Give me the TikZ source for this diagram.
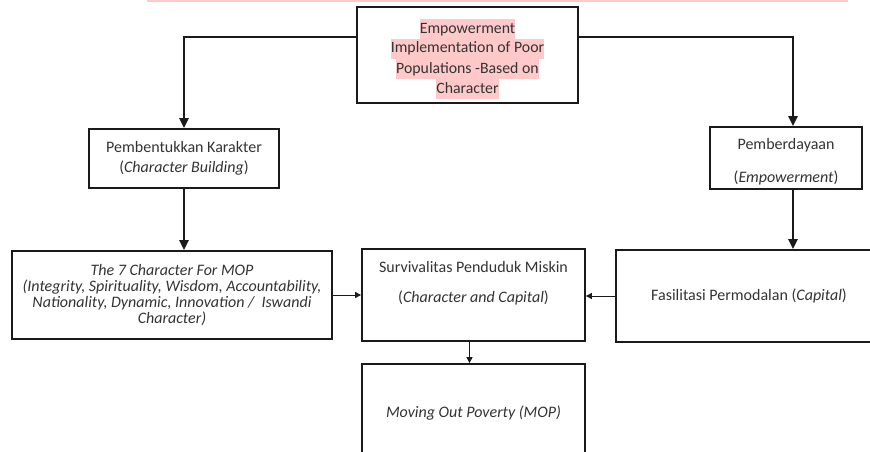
\documentclass[tikz,border=0pt]{standalone}
\usepackage{fontspec}
\setmainfont{Carlito}
\usetikzlibrary{arrows.meta,calc}
\definecolor{txt}{HTML}{333333}
\definecolor{hl}{HTML}{FFC9C9}
\definecolor{ln}{HTML}{1A1A1A}
\setlength{\fboxsep}{0pt}
\begin{document}
\begin{tikzpicture}[x=1pt,y=-1pt,
  box/.style={draw=ln, line width=1.8pt, rectangle, inner sep=0pt, align=center, text=txt, font=\fontsize{16}{20}\selectfont},
  thickarrow/.style={draw=ln, line width=2.6pt, -{Triangle[length=10pt,width=9pt]}},
  thinarrow/.style={draw=ln, line width=1pt, -{Triangle[length=6pt,width=6pt]}}]
\useasboundingbox (0,0) rectangle (870,452);
\clip (0,0) rectangle (870,452);
\fill[hl] (147,0) rectangle (848,1.6);

\node[box, line width=2.4pt, minimum width=221pt, minimum height=96pt, font=\fontsize{15.8}{20}\selectfont] (top) at (467.5,55)
  {\strut\\[-12pt]\colorbox{hl}{\strut Empowerment}\\\colorbox{hl}{\strut Implementation of Poor}\\\colorbox{hl}{\strut Populations -Based on}\\\colorbox{hl}{\strut Character}};

\node[box, minimum width=190pt, minimum height=59pt] (pk) at (184,158.5)
  {Pembentukkan Karakter\\(\textit{Character Building})};

\node[box, minimum width=152pt, minimum height=62pt] (pe) at (786,158)
  {\strut\\[-16pt]Pemberdayaan\\[13pt](\textit{Empowerment})};

\node[box, minimum width=320pt, minimum height=88pt, font=\fontsize{16}{16.3}\selectfont\itshape] (ch7) at (172,295)
  {The 7 Character For MOP\\(Integrity, Spirituality, Wisdom, Accountability,\\Nationality, Dynamic, Innovation /\ \ Iswandi\\Character)};

\node[box, minimum width=223pt, minimum height=92pt] (sv) at (473.5,295)
  {Survivalitas Penduduk Miskin\\[10pt](\textit{Character and Capital})\\[0pt]\strut};

\node[box, minimum width=266pt, minimum height=92pt] (fa) at (749,296)
  {Fasilitasi Permodalan (\textit{Capital})};

\node[box, minimum width=223pt, minimum height=98pt] (mop) at (473.5,413)
  {\textit{Moving Out Poverty (MOP)}};

\coordinate (yl) at (0,37);
\draw[thickarrow] (top.west |- yl) -| (pk.north);
\draw[thickarrow] (top.east |- yl) -| ([xshift=7pt]pe.north);
\draw[thickarrow] (pk.south) -- (pk.south |- ch7.north);
\draw[thickarrow] ([xshift=7pt]pe.south) -- ([xshift=7pt]pe.south |- fa.north);
\draw[thinarrow] (ch7.east) -- (ch7.east -| sv.west);
\draw[thinarrow] (fa.west) -- (fa.west -| sv.east);
\draw[thinarrow] ([xshift=-4pt]sv.south) -- ([xshift=-4pt]mop.north);
\end{tikzpicture}
\end{document}
